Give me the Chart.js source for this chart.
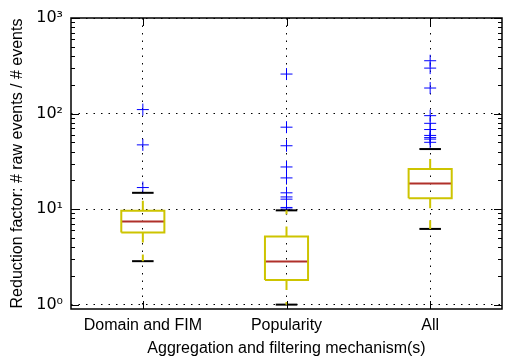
<!DOCTYPE html>
<html>
<head>
<meta charset="utf-8">
<script src="https://cdn.jsdelivr.net/npm/chart.js@4"></script>
<style>
  html, body { margin: 0; padding: 0; background: #fff; }
  #wrap { width: 509px; height: 363px; }
</style>
</head>
<body>
<div id="wrap"><canvas class="js-chart"></canvas></div>
<script>
const categories = ['Domain and FIM', 'Popularity', 'All'];
const q1 = [5.7, 1.81, 13];
const medians = [7.4, 2.83, 18.5];
const q3 = [9.6, 5.15, 26.3];
const whiskerLow = [2.85, 1.0, 6.2];
const whiskerHigh = [14.8, 9.7, 42.5];
const outliers = [
  [16.8, 47, 110],
  [10, 10.4, 12.7, 13.4, 14.8, 21.2, 27.6, 46, 72, 259],
  [50, 54, 56, 59, 68, 79, 95, 185, 299, 357],
];
const yTicks = [1, 10, 100, 1000];
const yTickLabels = ['10\u2070', '10\u00b9', '10\u00b2', '10\u00b3'];

const BOX_HALF = 0.15;
const CAP_HALF = 0.075;
const YELLOW = '#cdc400';
const SANS = '"Liberation Sans", Arial, sans-serif';

const ctx = document.querySelector('.js-chart').getContext('2d');

function seg(points, color, width, dash) {
  return {
    type: 'scatter',
    data: points,
    showLine: true,
    borderColor: color,
    borderWidth: width,
    borderDash: dash || [],
    pointRadius: 0,
    fill: false,
  };
}

const datasets = [];
categories.forEach((c, i) => {
  const x = i + 1;
  // box
  datasets.push(seg([
    { x: x - BOX_HALF, y: q1[i] }, { x: x + BOX_HALF, y: q1[i] },
    { x: x + BOX_HALF, y: q3[i] }, { x: x - BOX_HALF, y: q3[i] },
    { x: x - BOX_HALF, y: q1[i] },
  ], YELLOW, 2));
  // whiskers, dashed outward from the box
  datasets.push(seg([{ x, y: q3[i] }, { x, y: whiskerHigh[i] }], YELLOW, 2, [10, 12]));
  datasets.push(seg([{ x, y: q1[i] }, { x, y: whiskerLow[i] }], YELLOW, 2, [10, 12]));
  // caps
  datasets.push(seg([{ x: x - CAP_HALF, y: whiskerHigh[i] }, { x: x + CAP_HALF, y: whiskerHigh[i] }], '#000', 2));
  datasets.push(seg([{ x: x - CAP_HALF, y: whiskerLow[i] }, { x: x + CAP_HALF, y: whiskerLow[i] }], '#000', 2));
  // median
  datasets.push(seg([{ x: x - BOX_HALF, y: medians[i] }, { x: x + BOX_HALF, y: medians[i] }], '#b0302a', 2));
  // outliers
  datasets.push({
    type: 'scatter',
    data: outliers[i].map(v => ({ x, y: v })),
    pointStyle: 'cross',
    pointRadius: 6,
    borderColor: '#0000ff',
    borderWidth: 1,
    backgroundColor: '#0000ff',
  });
});

// matplotlib-like frame with inward major/minor ticks
const frame = {
  id: 'frame',
  afterDraw(chart) {
    const { ctx, chartArea: a, scales } = chart;
    ctx.save();
    ctx.strokeStyle = '#000';
    ctx.lineWidth = 1;
    ctx.beginPath();
    for (let k = 0; k < 3; k++) {
      for (let m = 2; m < 10; m++) {
        const y = Math.round(scales.y.getPixelForValue(m * Math.pow(10, k))) + 0.5;
        ctx.moveTo(a.left, y); ctx.lineTo(a.left + 4, y);
        ctx.moveTo(a.right, y); ctx.lineTo(a.right - 4, y);
      }
    }
    yTicks.forEach(v => {
      const y = Math.round(scales.y.getPixelForValue(v)) + 0.5;
      ctx.moveTo(a.left, y); ctx.lineTo(a.left + 8, y);
      ctx.moveTo(a.right, y); ctx.lineTo(a.right - 8, y);
    });
    categories.forEach((c, i) => {
      const x = Math.round(scales.x.getPixelForValue(i + 1)) + 0.5;
      ctx.moveTo(x, a.top); ctx.lineTo(x, a.top + 8);
      ctx.moveTo(x, a.bottom); ctx.lineTo(x, a.bottom - 8);
    });
    ctx.stroke();
    ctx.lineWidth = 1.5;
    ctx.strokeRect(a.left, a.top, a.right - a.left, a.bottom - a.top);
    ctx.restore();
  },
};

Chart.defaults.font.family = SANS;
Chart.defaults.color = '#000';

new Chart(ctx, {
  type: 'scatter',
  data: { datasets },
  plugins: [frame],
  options: {
    responsive: true,
    maintainAspectRatio: false,
    animation: false,
    layout: { padding: { top: 18, right: 1, left: 0, bottom: 0 } },
    plugins: { legend: { display: false }, tooltip: { enabled: false } },
    scales: {
      x: {
        type: 'linear',
        min: 0.5,
        max: 3.5,
        afterBuildTicks: scale => {
          scale.ticks = categories.map((c, i) => ({ value: i + 1 }));
        },
        afterFit: scale => { scale.height = 54; },
        ticks: {
          padding: 7,
          font: { size: 16 },
          callback: value => categories[value - 1],
        },
        grid: { color: '#000', lineWidth: 1, drawTicks: false },
        border: { display: false, dash: [1.5, 6] },
        title: {
          display: true,
          text: 'Aggregation and filtering mechanism(s)',
          font: { size: 16 },
          padding: { top: 0, bottom: 5 },
        },
      },
      y: {
        type: 'logarithmic',
        min: 0.9,
        max: 1000,
        afterBuildTicks: scale => {
          scale.ticks = yTicks.map(v => ({ value: v }));
        },
        afterFit: scale => { scale.width = 71; },
        ticks: {
          padding: 8,
          font: { size: 16, family: '"DejaVu Sans", sans-serif' },
          callback: value => yTickLabels[yTicks.indexOf(value)],
        },
        grid: { color: '#000', lineWidth: 1, drawTicks: false },
        border: { display: false, dash: [1.5, 6] },
        title: {
          display: true,
          text: 'Reduction factor: # raw events / # events',
          font: { size: 16 },
          padding: { top: 8, bottom: 0 },
        },
      },
    },
  },
});
</script>
</body>
</html>
